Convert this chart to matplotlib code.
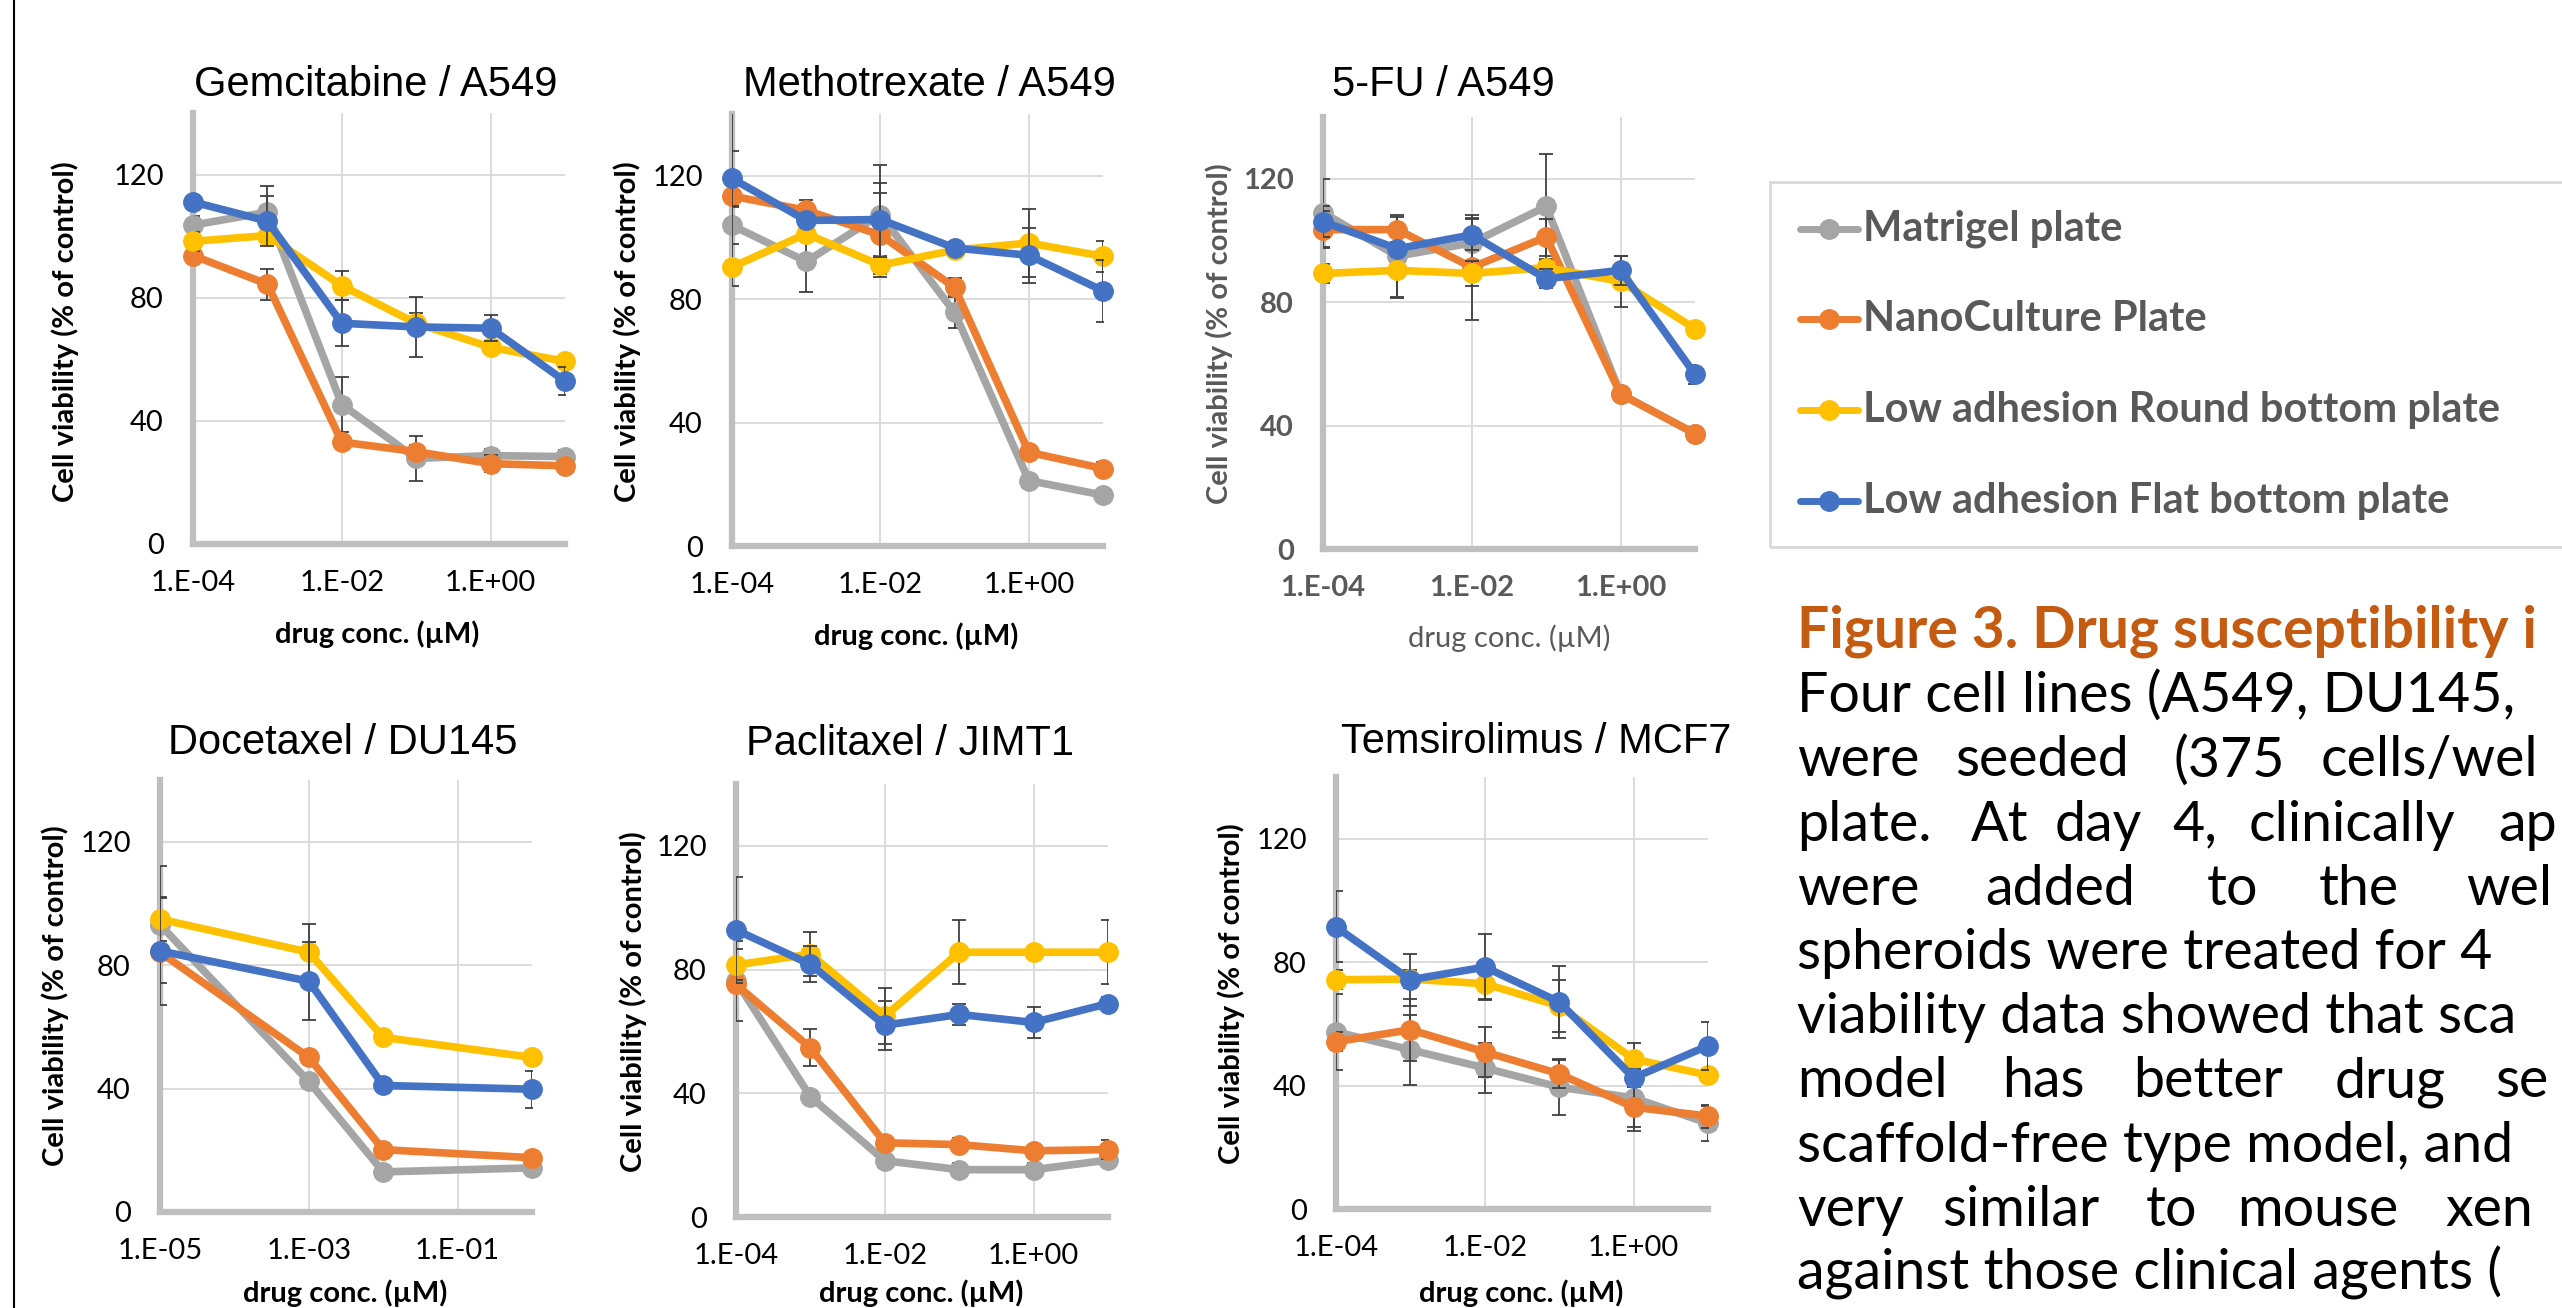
import matplotlib
matplotlib.use("Agg")
import matplotlib.pyplot as plt
from matplotlib.lines import Line2D
from matplotlib.patches import Rectangle

plt.rcParams['font.family'] = ['Lato', 'DejaVu Sans']

W, H = 2562, 1308

series_names = ["Matrigel plate", "NanoCulture Plate",
                "Low adhesion Round bottom plate", "Low adhesion Flat bottom plate"]
series_colors = ["#A5A5A5", "#ED7D31", "#FFC000", "#4472C4"]

conc = [1e-4, 1e-3, 1e-2, 1e-1, 1e0, 1e1]
conc_doce = [1e-5, 1e-3, 1e-2, 1e0]
xticks = [1e-4, 1e-2, 1e0]
xtick_labels = ["1.E-04", "1.E-02", "1.E+00"]
xticks_doce = [1e-5, 1e-3, 1e-1]
xtick_labels_doce = ["1.E-05", "1.E-03", "1.E-01"]
yticks = [0, 40, 80, 120]

# gray, orange, yellow, blue
gem = [[103.6, 107.8, 45.3, 27.8, 28.7, 28.4],
       [93.7, 84.4, 33.1, 30.0, 26.1, 25.4],
       [98.3, 100.2, 83.9, 71.7, 63.9, 59.3],
       [111.1, 104.9, 71.7, 70.5, 70.1, 52.9]]
gem_err = [[3, 8.4, 9, 7.3, 2, 2],
           [2, 5, 2, 2, 2.7, 2],
           [3, 2, 4.7, 3.3, 2, 2],
           [2, 8, 7.5, 9.6, 4.3, 4.6]]

mtx = [[103.9, 92.2, 107.4, 75.7, 21.2, 16.5],
       [113.4, 108.8, 100.8, 83.8, 30.4, 25.1],
       [90.4, 101.2, 91.0, 95.9, 98.2, 93.9],
       [119.1, 105.5, 105.8, 96.6, 94.2, 82.7]]
mtx_err = [[6, 10, 16, 5.2, 2, 2],
           [29, 3.3, 13.7, 3, 2, 2],
           [2, 2, 3, 2, 11, 5],
           [9, 2, 12, 2, 9, 10]]

fu = [[109.0, 94.9, 99.2, 111.0, 50.2, 37.4],
      [103.5, 103.5, 91.3, 101.1, 50.2, 37.4],
      [89.3, 90.3, 89.3, 91.2, 86.7, 71.4],
      [106.1, 97.3, 101.8, 87.6, 90.3, 56.6]]
fu_err = [[11, 13.5, 8, 17, 2, 2],
          [6, 4, 17, 6, 2, 2],
          [3, 8.5, 4, 2, 8.3, 2],
          [5, 2, 5, 3, 4.6, 3]]

doce = [[93.1, 42.3, 13.0, 14.3],
        [84.2, 50.1, 20.2, 17.6],
        [94.9, 84.2, 56.6, 50.1],
        [84.6, 74.8, 41.0, 39.8]]
doce_err = [[19, 2, 2, 2],
            [2, 2, 2, 2],
            [7, 9, 2, 2],
            [17.5, 12.7, 2, 6]]

ptx = [[76.3, 38.9, 18.2, 15.3, 15.3, 18.4],
       [75.2, 54.7, 24.0, 23.4, 21.4, 21.8],
       [81.5, 85.0, 64.9, 85.6, 85.6, 85.6],
       [92.8, 81.7, 62.0, 65.5, 62.9, 69.0]]
ptx_err = [[13, 2, 2, 2, 2, 2],
           [2, 6, 2, 2, 2, 3],
           [5, 7, 9, 10.4, 2, 10.4],
           [17, 5.8, 8, 3.4, 5, 2]]

tem = [[57.4, 51.6, 45.7, 39.5, 36.0, 27.8],
       [54.2, 58.1, 50.9, 43.8, 33.0, 30.1],
       [74.3, 74.5, 73.0, 65.8, 48.6, 43.4],
       [91.4, 74.3, 78.4, 67.1, 42.5, 52.9]]
tem_err = [[12.3, 11.3, 8, 9, 9.5, 5.7],
           [3, 10, 8, 4.5, 7.8, 3.7],
           [3, 3, 5, 8.5, 5.2, 2],
           [11.5, 8.4, 10.8, 11.7, 3, 7.7]]

fig = plt.figure(figsize=(W / 100, H / 100), dpi=100)


def fx(x):
    return x / W


def fy(y):
    return 1 - y / H


def panel(title, x, vals, errs, ticks, ticklabels, xlim, box, title_xy, ylab_xy, xlab_xy,
          grey=False, xlab_va='center'):
    l, t, r, b = box
    ax = fig.add_axes([fx(l), fy(b), (r - l) / W, (b - t) / H])
    for i, (v, e, c) in enumerate(zip(vals, errs, series_colors)):
        ax.errorbar(x, v, yerr=e, fmt='none', ecolor='#404040', elinewidth=1.3,
                    capsize=5, capthick=1.3, zorder=3 + 2 * i)
        ax.plot(x, v, color=c, lw=5.5, marker='o', ms=14, zorder=4 + 2 * i, clip_on=False)
    ax.set_xscale('log')
    ax.set_xlim(*xlim)
    ax.set_ylim(0, 140)
    ax.set_xticks(ticks)
    ax.set_xticklabels(ticklabels)
    ax.minorticks_off()
    ax.set_yticks(yticks)
    ax.grid(True, color='#D9D9D9', lw=1.3)
    ax.set_axisbelow(True)
    for s in ['top', 'right']:
        ax.spines[s].set_visible(False)
    for s in ['left', 'bottom']:
        ax.spines[s].set_color('#BFBFBF')
        ax.spines[s].set_linewidth(4.5)
        ax.spines[s].set_zorder(2.5)
    tcol = '#595959' if grey else 'black'
    tw = 'bold' if grey else 'normal'
    ax.tick_params(length=0, labelsize=21, labelcolor=tcol)
    ax.tick_params(axis='y', pad=21)
    ax.tick_params(axis='x', pad=19)
    for lab in ax.get_xticklabels() + ax.get_yticklabels():
        lab.set_fontweight(tw)
    fig.text(fx(title_xy[0]), fy(title_xy[1]), title, ha='center', va='center',
             fontsize=30, family='Liberation Sans')
    fig.text(fx(ylab_xy[0]), fy(ylab_xy[1]), "Cell viability (% of control)", rotation=90,
             ha='center', va='center', fontsize=21, fontweight='bold', color=tcol)
    fig.text(fx(xlab_xy[0]), fy(xlab_xy[1]), "drug conc. (\u00b5M)", ha='center', va=xlab_va,
             fontsize=21, fontweight='normal' if grey else 'bold', color=tcol)
    return ax


xl = (1e-4, 1e1)
panel("Gemcitabine / A549", conc, gem, gem_err, xticks, xtick_labels, xl,
      (193, 113, 565, 544), (376, 85), (65, 332), (377, 634))
panel("Methotrexate / A549", conc, mtx, mtx_err, xticks, xtick_labels, xl,
      (732, 114, 1103, 546), (929, 85), (627, 332), (916, 636))
panel("5-FU / A549", conc, fu, fu_err, xticks, xtick_labels, xl,
      (1323, 117, 1695, 549), (1443, 85), (1219, 334), (1509, 638), grey=True)
panel("Docetaxel / DU145", conc_doce, doce, doce_err, xticks_doce, xtick_labels_doce, (1e-5, 1e0),
      (160, 780, 532, 1212), (343, 743), (55, 996), (345, 1307), xlab_va='bottom')
panel("Paclitaxel / JIMT1", conc, ptx, ptx_err, xticks, xtick_labels, xl,
      (736, 784, 1108, 1217), (910, 744), (633, 1002), (921, 1307), xlab_va='bottom')
panel("Temsirolimus / MCF7", conc, tem, tem_err, xticks, xtick_labels, xl,
      (1336, 777, 1708, 1209), (1536, 742), (1231, 994), (1521, 1307), xlab_va='bottom')

# legend box (runs off the right edge)
fig.add_artist(Rectangle((fx(1770), fy(547)), (2600 - 1770) / W, (547 - 182) / H,
                         transform=fig.transFigure, fill=False, ec='#D9D9D9', lw=2))
for i, (name, c) in enumerate(zip(series_names, series_colors)):
    yy = 229 + i * 90.5
    fig.add_artist(Line2D([fx(1800), fx(1858)], [fy(yy), fy(yy)], color=c, lw=5,
                          solid_capstyle='round', transform=fig.transFigure))
    fig.add_artist(Line2D([fx(1829)], [fy(yy)], color=c, marker='o', ms=14,
                          transform=fig.transFigure))
    fig.text(fx(1863), fy(yy), name, ha='left', va='center', fontsize=30,
             fontweight='bold', color='#595959')

# caption
fig.text(fx(1797), fy(648), "Figure 3. Drug susceptibility i", ha='left', va='baseline',
         fontsize=41, fontweight='bold', color='#C55A11')

plain_lines = {1: "Four cell lines (A549, DU145,",
               5: "spheroids were treated for 4",
               6: "viability data showed that sca",
               8: "scaffold-free type model, and",
               10: "against those clinical agents ("}
spread_lines = {2: [("were", 1797), ("seeded", 1955), ("(375", 2174), ("cells/wel", 2321)],
                3: [("plate.", 1797), ("At", 1971), ("day", 2055), ("4,", 2172),
                    ("clinically", 2249), ("ap", 2498)],
                4: [("were", 1797), ("added", 1985), ("to", 2207), ("the", 2319), ("wel", 2466)],
                7: [("model", 1797), ("has", 2002), ("better", 2133), ("drug", 2335), ("se", 2495)],
                9: [("very", 1797), ("similar", 1942), ("to", 2146), ("mouse", 2237), ("xen", 2445)]}
for k in range(1, 11):
    base = 648 + k * 64.2
    if k in plain_lines:
        fig.text(fx(1797), fy(base), plain_lines[k], ha='left', va='baseline',
                 fontsize=40, color='black')
    else:
        for word, xw in spread_lines[k]:
            fig.text(fx(xw), fy(base), word, ha='left', va='baseline',
                     fontsize=40, color='black')

# black frame edge on the left
fig.add_artist(Line2D([fx(14), fx(14)], [0, 1], color='black', lw=1.5, transform=fig.transFigure))

fig.savefig("out.png", dpi=100)
